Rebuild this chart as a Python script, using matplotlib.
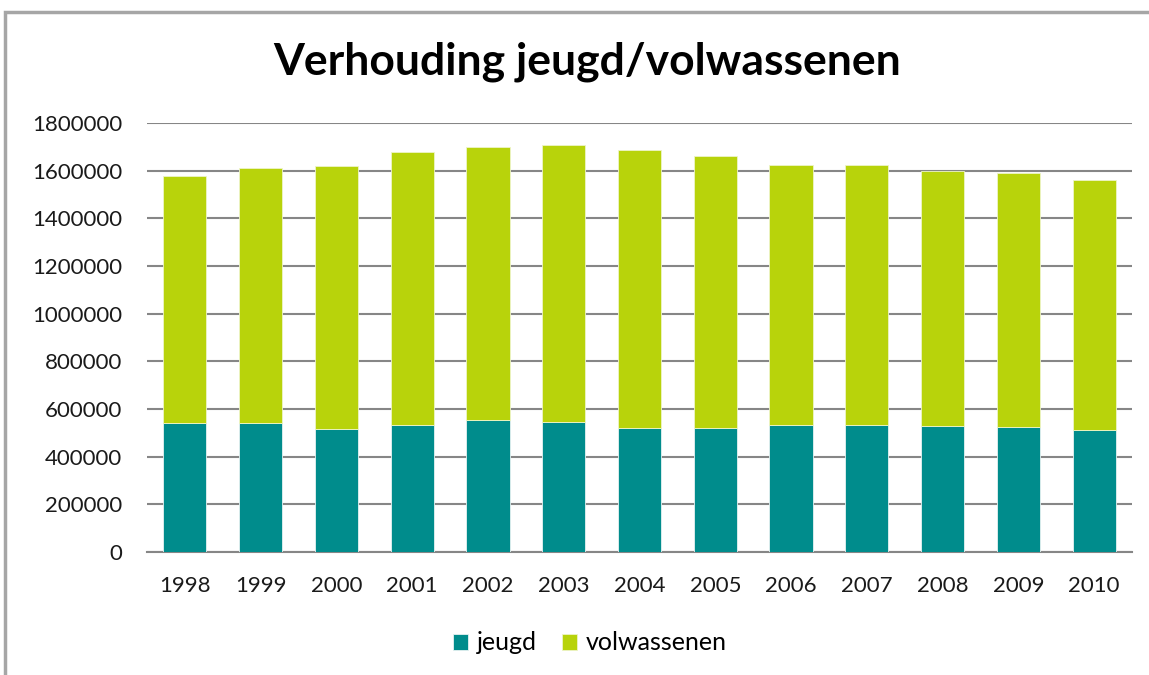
import matplotlib
matplotlib.use("Agg")
import matplotlib.pyplot as plt
from matplotlib.patches import Rectangle
import numpy as np

years = ["1998", "1999", "2000", "2001", "2002", "2003", "2004",
         "2005", "2006", "2007", "2008", "2009", "2010"]
jeugd = [540000, 543000, 516000, 534000, 554000, 546000, 522000,
         522000, 534000, 534000, 530000, 526000, 512000]
totaal = [1578000, 1611000, 1620000, 1679000, 1700000, 1709000, 1688000,
          1663000, 1624000, 1625000, 1599000, 1592000, 1561000]
volwassenen = [t - j for t, j in zip(totaal, jeugd)]
yticks = [0, 200000, 400000, 600000, 800000, 1000000, 1200000,
          1400000, 1600000, 1800000]

FONT = ["Lato", "DejaVu Sans"]
plt.rcParams['font.family'] = FONT

teal = "#008C8C"
lime = "#B8D30B"
grid = "#868686"

fig = plt.figure(figsize=(11.49, 6.75), dpi=100)
ax = fig.add_axes([147/1149, 1-552/675, (1132-147)/1149, (552-123)/675])

x = np.arange(len(years))
w = 0.57
ax.bar(x, jeugd, w, color=teal, edgecolor="#E6F2F2", linewidth=0.6,
       label="jeugd", zorder=3)
ax.bar(x, volwassenen, w, bottom=jeugd, color=lime, edgecolor="#EEF5C8",
       linewidth=0.6, label="volwassenen", zorder=3)

ax.set_xlim(-0.5, len(years) - 0.5)
ax.set_ylim(0, 1800000)
ax.set_yticks(yticks)
ax.set_yticklabels([str(v) for v in yticks], fontsize=16, color="#1a1a1a")
ax.set_xticks(x)
ax.set_xticklabels(years, fontsize=16, color="#1a1a1a")
ax.yaxis.grid(True, color=grid, linewidth=1.5, zorder=0)
ax.set_axisbelow(True)
for s in ["left", "right", "top"]:
    ax.spines[s].set_visible(False)
ax.spines["bottom"].set_color(grid)
ax.spines["bottom"].set_linewidth(1.5)
ax.tick_params(axis="both", length=0)
ax.tick_params(axis="y", pad=18)
ax.tick_params(axis="x", pad=17)

fig.text(587/1149, 1-62/675, "Verhouding jeugd/volwassenen",
         ha="center", va="center", fontsize=32, fontweight="bold",
         color="black")

leg = fig.legend(loc="center", bbox_to_anchor=(590/1149, 1-643/675),
                 ncol=2, frameon=False, fontsize=18, handlelength=0.6,
                 handleheight=0.6, handletextpad=0.35, columnspacing=1.0)

fig.patches.append(Rectangle((5/1149, -0.1), 1.2, 1-12/675 + 0.1,
                             transform=fig.transFigure, fill=False,
                             edgecolor="#A6A6A6", linewidth=2.5))

fig.savefig("out.png", dpi=100, facecolor="white")
